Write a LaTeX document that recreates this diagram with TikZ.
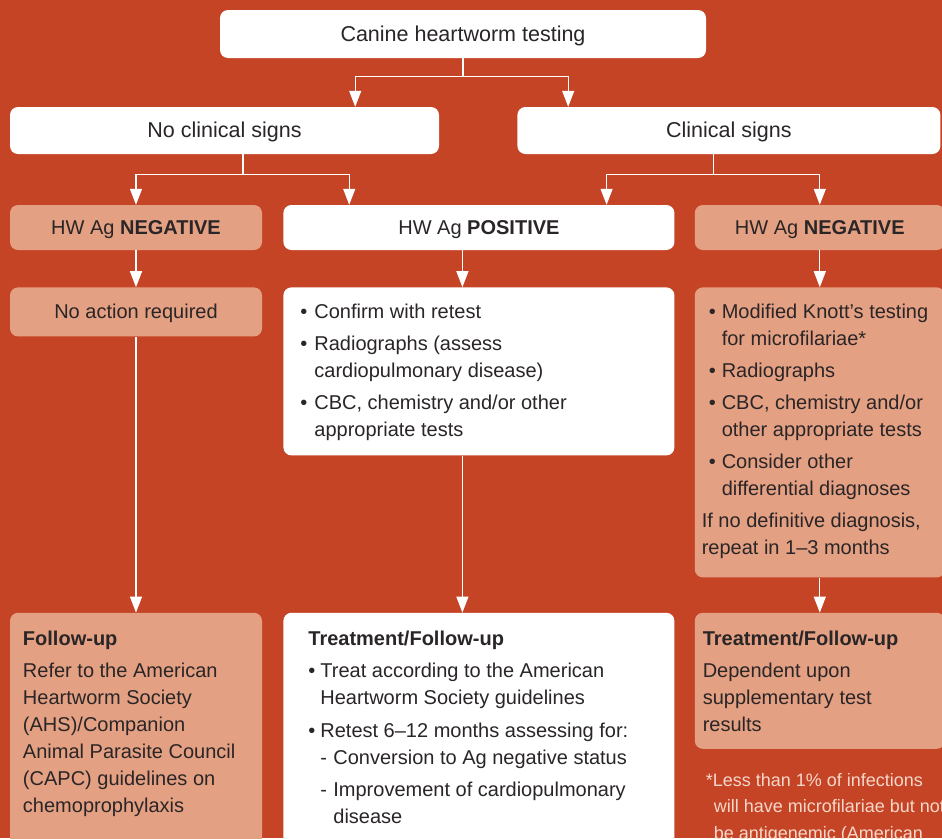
\documentclass[tikz,border=0pt]{standalone}
\usepackage{fontspec}
\setmainfont{Liberation Sans}
\usetikzlibrary{positioning, arrows.meta}
\definecolor{hwRed}{HTML}{C54426}
\definecolor{hwPeach}{HTML}{E4A083}
\definecolor{hwText}{HTML}{2A2526}
\definecolor{hwNote}{HTML}{F6D8CA}
\newcommand{\hwfont}{\fontsize{20}{27}\selectfont}
\newcommand{\hwhead}{\fontsize{21.5}{27}\selectfont}
\newcommand{\hwnote}{\fontsize{18}{26.5}\selectfont}
\newcommand{\hwbul}[1][14pt]{\makebox[#1][l]{\textbullet}}
\newcommand{\hwind}[1][14pt]{\hspace*{#1}}
\tikzstyle{whitebox} =[fill=white, rounded corners=8pt, inner sep=0pt, text=hwText, font=\hwfont, text height=16pt, text depth=2pt]
\tikzstyle{peachbox} =[fill=hwPeach, rounded corners=8pt, inner sep=0pt, text=hwText, font=\hwfont, text height=16pt, text depth=2pt]
\tikzstyle{boxtext} =[anchor=north west, align=left, inner sep=0pt, font=\hwfont, text=hwText]
\tikzstyle{hwarrow} =[-{Triangle[width=12pt, length=16pt]}, line width=1.2pt, white]

\begin{document}
\begin{tikzpicture}[x=1pt, y=-1pt]
\useasboundingbox (0,0) rectangle (942,838);
\clip (0,0) rectangle (942,838);
\fill[hwRed] (0,0) rectangle (942,838);

\node (testing) [whitebox, minimum width=486pt, minimum height=48pt, font=\hwhead] at (463,34) {Canine heartworm testing};

\node (noSigns) [whitebox, minimum width=429pt, minimum height=47pt, font=\hwhead] at (224.5,130.5) {No clinical signs};
\node (signs) [whitebox, minimum width=423pt, minimum height=47pt, font=\hwhead, right=78pt of noSigns] {Clinical signs};

\node (negL) [peachbox, minimum width=252pt, minimum height=45pt] at (136,227.5) {HW Ag \textbf{NEGATIVE}};
\node (pos) [whitebox, minimum width=391pt, minimum height=45pt, right=21pt of negL] {HW Ag \textbf{POSITIVE}};
\node (negR) [peachbox, minimum width=250pt, minimum height=45pt, right=20pt of pos] {HW Ag \textbf{NEGATIVE}};

\node (noAction) [peachbox, minimum width=252pt, minimum height=49pt, below=37pt of negL] {No action required};
\node (tests) [whitebox, minimum width=391pt, minimum height=168pt, below=37pt of pos] {};
\node (knott) [peachbox, minimum width=250pt, minimum height=290pt, below=37pt of negR] {};

\node (followL) [peachbox, minimum width=252pt, minimum height=246pt, below=276pt of noAction] {};
\node (treat) [whitebox, minimum width=391pt, minimum height=246pt, below=157pt of tests] {};
\node (treatR) [peachbox, minimum width=250pt, minimum height=136pt, below=35pt of knott] {};

% texts in the big boxes
\node (testsText) [boxtext] at ([shift={(17,17)}]tests.north west) {%
\hwbul Confirm with retest\\[5pt]
\hwbul Radiographs (assess\\
\hwind cardiopulmonary disease)\\[5pt]
\hwbul CBC, chemistry and/or other\\
\hwind appropriate tests};

\node (knottText) [boxtext] at ([shift={(7,17)}]knott.north west) {%
\hspace*{7pt}\hwbul[13pt]Modified Knott’s testing\\
\hwind[20pt]for microfilariae*\\[5pt]
\hspace*{7pt}\hwbul[13pt]Radiographs\\[5pt]
\hspace*{7pt}\hwbul[13pt]CBC, chemistry and/or\\
\hwind[20pt]other appropriate tests\\[5pt]
\hspace*{7pt}\hwbul[13pt]Consider other\\
\hwind[20pt]differential diagnoses\\[5pt]
If no definitive diagnosis,\\
repeat in 1--3 months};

\node (followLText) [boxtext] at ([shift={(13,18)}]followL.north west) {%
\textbf{Follow-up}\\[5pt]
Refer to the American\\
Heartworm Society\\
(AHS)/Companion\\
Animal Parasite Council\\
(CAPC) guidelines on\\
chemoprophylaxis};

\node (treatText) [boxtext] at ([shift={(25,18)}]treat.north west) {%
\textbf{Treatment/Follow-up}\\[5pt]
\hwbul[12pt]Treat according to the American\\
\hwind[12pt]Heartworm Society guidelines\\[6pt]
\hwbul[12pt]Retest 6--12 months assessing for:\\
\hwind[12pt]\makebox[13pt][l]{-}Conversion to Ag negative status\\[5pt]
\hwind[12pt]\makebox[13pt][l]{-}Improvement of cardiopulmonary\\
\hwind[25pt]disease};

\node (treatRText) [boxtext] at ([shift={(8,18)}]treatR.north west) {%
\textbf{Treatment/Follow-up}\\[5pt]
Dependent upon\\
supplementary test\\
results};

\node (note) [anchor=north west, align=left, inner sep=0pt, font=\hwnote, text=hwNote] at ([shift={(11,24)}]treatR.south west) {%
\makebox[7pt][l]{*}Less than 1\% of infections\\
\hspace*{8pt}will have microfilariae but not\\
\hspace*{8pt}be antigenemic (American};

% connectors
\draw[hwarrow] (testing.south) -- ++(0,18) -| ([xshift=-84pt]noSigns.north east);
\draw[hwarrow] (testing.south) -- ++(0,18) -| ([xshift=51pt]signs.north west);

\draw[hwarrow] ([xshift=18.5pt]noSigns.south) -- ++(0,20) -| (negL.north);
\draw[hwarrow] ([xshift=18.5pt]noSigns.south) -- ++(0,20) -| ([xshift=66pt]pos.north west);

\draw[hwarrow] ([xshift=-15.5pt]signs.south) -- ++(0,20) -| ([xshift=-68pt]pos.north east);
\draw[hwarrow] ([xshift=-15.5pt]signs.south) -- ++(0,20) -| (negR.north);

\draw[hwarrow] (negL) -- (noAction);
\draw[hwarrow] ([xshift=-16.5pt]pos.south) -- ([xshift=-16.5pt]tests.north);
\draw[hwarrow] (negR) -- (knott);

\draw[hwarrow] (noAction) -- (followL);
\draw[hwarrow] ([xshift=-16.5pt]tests.south) -- ([xshift=-16.5pt]treat.north);
\draw[hwarrow] (knott) -- (treatR);

\end{tikzpicture}
\end{document}
